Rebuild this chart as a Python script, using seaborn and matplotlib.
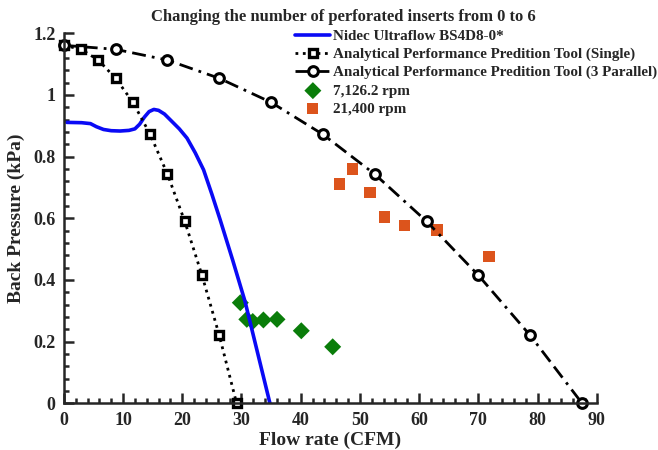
import numpy as np
import pandas as pd
import seaborn as sns
import matplotlib.pyplot as plt
from matplotlib.ticker import MultipleLocator, FormatStrFormatter

sns.set_style('ticks')
plt.rcParams['font.family'] = ['Liberation Serif', 'DejaVu Serif']
plt.rcParams['font.weight'] = 'bold'

# Nidec fan curve
nidec_x = [0.5, 3.0, 4.5, 5.5, 6.7, 8.0, 9.5, 11.0, 12.0, 12.8, 13.6, 14.4, 15.2, 16.0, 17.0, 18.2, 19.5, 20.8, 22.2, 23.6, 25.0, 26.4, 28.5, 30.6, 32.7, 34.8]
nidec_y = [0.911, 0.910, 0.907, 0.897, 0.888, 0.884, 0.883, 0.885, 0.890, 0.905, 0.928, 0.946, 0.953, 0.950, 0.938, 0.915, 0.890, 0.860, 0.812, 0.757, 0.678, 0.595, 0.465, 0.330, 0.165, 0.0]

# analytical tool, single and 3 in parallel
single_x = [0, 2.92, 5.83, 8.75, 11.67, 14.58, 17.5, 20.42, 23.33, 26.25, 29.17]
parallel_x = [0, 8.75, 17.5, 26.25, 35, 43.75, 52.5, 61.25, 70, 78.75, 87.5]
tool_y = [1.161, 1.148, 1.113, 1.054, 0.976, 0.872, 0.743, 0.590, 0.415, 0.220, 0.0]

# measurements
low_x = [29.8, 30.9, 31.9, 33.7, 36.0, 40.1, 45.4]
low_y = [0.326, 0.272, 0.265, 0.270, 0.272, 0.235, 0.183]
high_x = [46.6, 48.7, 51.7, 54.1, 57.5, 63.0, 71.8]
high_y = [0.711, 0.760, 0.684, 0.604, 0.577, 0.562, 0.476]

fig = plt.figure(figsize=(6.58, 4.5), dpi=100)
ax = fig.add_axes([0.097, 0.104, 0.81, 0.822])

sns.lineplot(x=nidec_x, y=nidec_y, ax=ax, color='#0A0AF5', lw=2.6, sort=False,
             label='Nidec Ultraflow BS4D8-0*')
sns.lineplot(x=single_x, y=tool_y, ax=ax, color='black', lw=2, ls=':', marker='s',
             markersize=5.5, mfc='white', mec='black', mew=2.4, sort=False, clip_on=False,
             label='Analytical Performance Predition Tool (Single)')
sns.lineplot(x=parallel_x, y=tool_y, ax=ax, color='black', lw=2, marker='o',
             markersize=7, mfc='white', mec='black', mew=2.2, sort=False, clip_on=False,
             label='Analytical Performance Predition Tool (3 Parallel)')
ax.lines[-1].set_dashes([5, 2.2, 5, 2.2, 1, 2.2])
sns.scatterplot(x=low_x, y=low_y, ax=ax, marker='D', s=75, color='#0A7D0A',
                edgecolor='none', label='7,126.2 rpm')
sns.scatterplot(x=high_x, y=high_y, ax=ax, marker='s', s=65, color='#DC541C',
                edgecolor='none', label='21,400 rpm')

ax.set_xlim(0, 90)
ax.set_ylim(0, 1.2)
ax.xaxis.set_major_locator(MultipleLocator(10))
ax.xaxis.set_minor_locator(MultipleLocator(2))
ax.yaxis.set_major_locator(MultipleLocator(0.2))
ax.yaxis.set_minor_locator(MultipleLocator(0.04))
ax.yaxis.set_major_formatter(FormatStrFormatter('%g'))
ax.tick_params(which='both', direction='in', width=1.8, labelsize=13, pad=6)
ax.tick_params(which='major', length=7)
ax.tick_params(which='minor', length=3.5)
for lab in ax.get_xticklabels() + ax.get_yticklabels():
    lab.set_fontweight('bold')
sns.despine(ax=ax)
for s in ['left', 'bottom']:
    ax.spines[s].set_linewidth(1.8)

ax.set_xlabel('Flow rate (CFM)', fontsize=14, fontweight='bold', labelpad=2)
ax.set_ylabel('Back Pressure (kPa)', fontsize=14, fontweight='bold', labelpad=6)

fig.text(0.522, 0.962, 'Changing the number of perforated inserts from 0 to 6',
         ha='center', va='center', fontsize=12, fontweight='bold')

leg = ax.legend(loc='upper right', bbox_to_anchor=(0.998, 0.935),
                bbox_transform=fig.transFigure, frameon=False,
                fontsize=10.9, handlelength=2.3, handletextpad=0.15,
                labelspacing=0.3, borderaxespad=0, borderpad=0)
for t in leg.get_texts():
    t.set_fontweight('bold')

fig.savefig('out.png', dpi=100)
